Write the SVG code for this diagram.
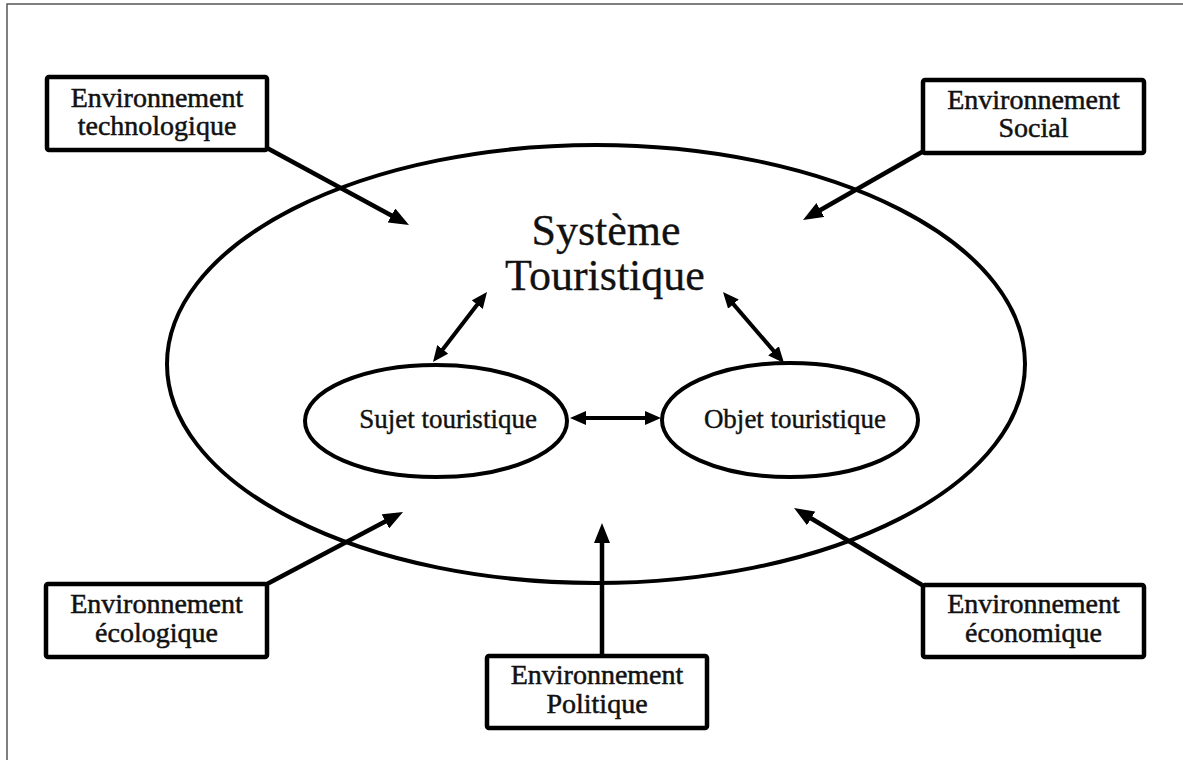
<svg xmlns="http://www.w3.org/2000/svg" width="1183" height="760" viewBox="0 0 1183 760">
<style>
.frame{stroke:#555;stroke-width:1.5;fill:none}
.box{fill:#fff;stroke:#000;stroke-width:4.5}
.ell{fill:none;stroke:#000;stroke-width:4}
.sm{fill:#fff;stroke:#000;stroke-width:4}
.t{font-family:"Liberation Serif","Times New Roman",serif;fill:#111;text-anchor:middle}
.bt{font-size:28px;stroke:#111;stroke-width:0.5}
.et{font-size:27px;stroke:#111;stroke-width:0.4}
.big{font-size:44px;stroke:#111;stroke-width:0.3}
.arr{stroke:#000;stroke-width:4.5;fill:none;marker-end:url(#ah)}
.dbl{stroke:#000;stroke-width:4;fill:none;marker-start:url(#dh);marker-end:url(#dh)}
</style>
<defs>
<marker id="ah" markerUnits="userSpaceOnUse" markerWidth="20" markerHeight="16" refX="10" refY="8" orient="auto" viewBox="0 0 20 16">
<path d="M0,0 L20,8 L0,16 z" fill="#000"/>
</marker>
<marker id="dh" markerUnits="userSpaceOnUse" markerWidth="16" markerHeight="14" refX="8" refY="7" orient="auto-start-reverse" viewBox="0 0 16 14">
<path d="M0,0 L16,7 L0,14 z" fill="#000"/>
</marker>
</defs>
<rect width="1183" height="760" fill="#fff"/>
<path class="frame" d="M7,760 L7,4 L1183,4"/>

<g id="systeme">
<ellipse class="ell" cx="596" cy="364" rx="429" ry="219"/>
<text class="t big" x="606" y="245">Système</text>
<text class="t big" x="605" y="290">Touristique</text>
</g>

<g id="sujet">
<ellipse class="sm" cx="436" cy="421" rx="131" ry="56"/>
<text class="t et" x="448" y="428">Sujet touristique</text>
</g>

<g id="objet">
<ellipse class="sm" cx="790" cy="420" rx="128" ry="57"/>
<text class="t et" x="795" y="428">Objet touristique</text>
</g>

<g id="connectors">
<line class="arr" x1="267" y1="148" x2="400.2" y2="220.2"/>
<line class="arr" x1="922" y1="152" x2="811.7" y2="215"/>
<line class="arr" x1="267" y1="584" x2="394.2" y2="516.7"/>
<line class="arr" x1="922" y1="585" x2="802.6" y2="513.2"/>
<line class="arr" x1="602" y1="656" x2="602" y2="533"/>
<line class="dbl" x1="437.9" y1="355.7" x2="482.1" y2="298.3"/>
<line class="dbl" x1="578" y1="418" x2="653" y2="418"/>
<line class="dbl" x1="728.2" y1="298.1" x2="778.8" y2="356.9"/>
</g>

<g id="env-techno">
<rect class="box" x="47" y="77" width="220" height="73" rx="2"/>
<text class="t bt" x="157" y="107">Environnement</text>
<text class="t bt" x="157" y="135">technologique</text>
</g>

<g id="env-social">
<rect class="box" x="923" y="80" width="221" height="73" rx="2"/>
<text class="t bt" x="1033.5" y="109">Environnement</text>
<text class="t bt" x="1033.5" y="137">Social</text>
</g>

<g id="env-ecologique">
<rect class="box" x="46" y="584" width="221" height="73" rx="2"/>
<text class="t bt" x="156.5" y="613">Environnement</text>
<text class="t bt" x="156.5" y="642">écologique</text>
</g>

<g id="env-economique">
<rect class="box" x="923" y="585" width="221" height="72" rx="2"/>
<text class="t bt" x="1033.5" y="613">Environnement</text>
<text class="t bt" x="1033.5" y="642">économique</text>
</g>

<g id="env-politique">
<rect class="box" x="487" y="656" width="220" height="72" rx="2"/>
<text class="t bt" x="597" y="684">Environnement</text>
<text class="t bt" x="597" y="713">Politique</text>
</g>
</svg>
